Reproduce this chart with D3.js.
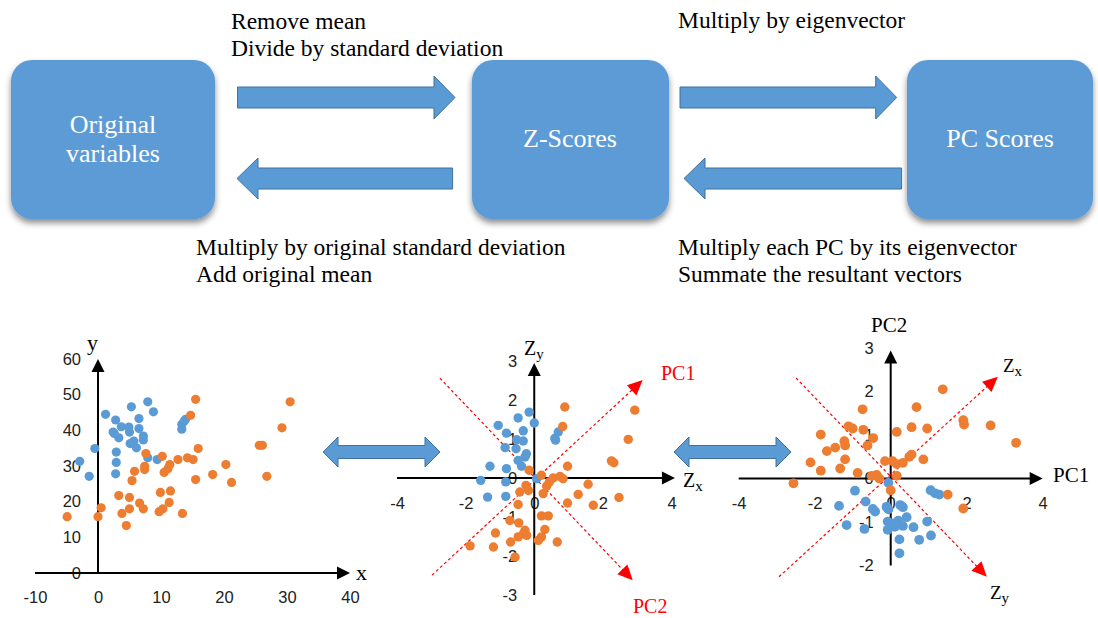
<!DOCTYPE html>
<html><head><meta charset="utf-8">
<script src="https://cdn.jsdelivr.net/npm/d3@7"></script>
<style>body{margin:0;background:#fff}svg{display:block}</style>
</head><body>
<svg id="c" width="1098" height="618"></svg>
<script>
// ---------- DATA ----------
const boxLabels = [["Original", "variables"], ["Z-Scores"], ["PC Scores"]];
const topNotes = [["Remove mean", "Divide by standard deviation"], ["Multiply by eigenvector"]];
const bottomNotes = [["Multiply by original standard deviation", "Add original mean"], ["Multiply each PC by its eigenvector", "Summate the resultant vectors"]];

const origTicksX = [-10, 0, 10, 20, 30, 40];
const origTicksY = [0, 10, 20, 30, 40, 50, 60];
const zTicksX = [-4, -2, 0, 2, 4];
const zTicksY = [-3, -2, -1, 0, 1, 2, 3];
const pcTicksX = [-4, -2, 0, 2, 4];
const pcTicksY = [-2, -1, 0, 1, 2, 3];

const origBlue = [[-2.9,31.3],[-1.4,27.1],[-0.5,34.9],[1.2,44.5],[2.8,42.9],[2.4,39.5],[2.6,39.1],[3.3,37.9],[3.7,41.0],[2.9,33.9],[2.9,31.0],[2.8,27.8],[4.9,40.9],[5.0,39.5],[5.3,46.6],[5.1,36.3],[5.7,37.0],[6.1,35.1],[6.5,43.3],[6.5,40.5],[7.2,38.4],[7.2,37.3],[7.9,48.0],[8.8,45.2],[7.9,32.3],[9.4,31.8],[13.3,40.3],[13.3,41.7],[13.7,42.6],[13.9,43.1]];
const origOrange = [[-4.9,15.8],[0,15.8],[0.5,18.3],[3.3,21.7],[3.8,16.7],[4.5,13.3],[5.0,21.2],[5.0,18.0],[5.4,25.9],[5.8,28.5],[6.6,19.6],[7.2,18.0],[7.4,29.0],[7.4,29.9],[7.6,33.5],[9.7,17.2],[10.3,18.0],[9.9,22.6],[10.2,32.7],[10.5,28.2],[11.1,29.2],[11.4,30.4],[11.3,19.8],[11.5,23.0],[12.7,31.8],[13.4,16.7],[14.2,32.3],[14.7,44.2],[15.1,31.8],[15.5,48.7],[15.5,26.2],[15.9,34.9],[18.2,27.6],[20.3,30.4],[21.2,25.4],[25.6,35.8],[26.1,35.8],[26.8,27.1],[29.2,40.7],[30.5,48.0]];

const zBlue = [[-0.15,1.69],[0,1.41],[-0.47,1.54],[-1.05,1.35],[-0.81,1.15],[-0.32,1.21],[-0.51,0.98],[-0.32,0.95],[-0.85,0.78],[-0.53,0.75],[-0.23,0.62],[-0.27,0.54],[-0.47,0.45],[-0.37,0.30],[-1.29,0.30],[-0.81,0.24],[-1.56,-0.06],[-0.83,-0.10],[-1.36,-0.49],[-0.83,-0.47],[0.62,0.97],[0.70,1.18],[0.60,1.02],[0.07,-0.02]];
const zOrange = [[0.89,1.82],[0.83,1.32],[2.93,1.74],[2.74,0.99],[2.25,0.44],[2.32,0.39],[0.97,0.30],[-0.15,0.20],[0.21,0.07],[0.55,0],[0.75,0.04],[0.84,-0.02],[0.44,-0.10],[0.36,-0.21],[-0.24,-0.19],[-0.42,-0.36],[-0.17,-0.32],[0.26,-0.40],[1.57,-0.16],[1.28,-0.42],[0.97,-0.64],[1.72,-0.70],[2.47,-0.50],[-0.47,-0.68],[0.21,-0.97],[0.41,-0.97],[-0.71,-1.09],[-0.45,-1.15],[-0.27,-1.34],[0.31,-1.32],[-1.13,-1.41],[-0.32,-1.43],[-0.22,-1.47],[-0.47,-1.51],[0.21,-1.51],[-0.69,-1.64],[0.12,-1.60],[0.67,-1.64],[-1.87,-1.74],[-1.19,-1.77],[-0.56,-2.03]];

const pcBlue = [[-0.94,-0.28],[-1.36,-0.63],[-1.16,-1.07],[-0.66,-0.53],[-0.47,-0.70],[-0.41,-0.76],[-0.69,-1.16],[-0.06,-0.10],[-0.11,-0.65],[-0.06,-0.71],[0.25,-0.61],[0.32,-0.66],[0.42,-0.89],[-0.08,-0.99],[-0.08,-1.18],[0.11,-1.11],[0.20,-0.97],[0.32,-1.09],[0.23,-1.40],[0.23,-1.72],[0.60,-1.12],[0.75,-1.41],[0.96,-0.99],[1.06,-1.31],[1.05,-0.27],[1.17,-0.34],[1.28,-0.37],[0.07,-1.03]];
const pcOrange = [[-2.56,-0.11],[-2.11,0.37],[-1.84,0.18],[-1.84,1.01],[-1.68,0.63],[-1.46,0.71],[-1.33,0.23],[-1.22,0.86],[-1.20,0.76],[-1.20,0.44],[-1.11,1.20],[-1.0,1.15],[-0.87,0.13],[-0.74,1.59],[-0.72,1.12],[-0.61,0.76],[-0.46,0.93],[-0.5,0.06],[-0.37,0.08],[-0.30,0],[-0.15,0.40],[0.05,0.40],[0.16,0.33],[0.16,0.06],[0.32,0.36],[0.49,0.50],[0.55,0.55],[0.86,0.44],[0.16,1.07],[0.55,1.18],[0.68,1.64],[0.96,1.15],[1.37,2.05],[1.91,1.34],[1.93,1.24],[2.63,1.22],[3.30,0.82],[1.50,-0.37],[1.91,-0.69],[0,-0.27]];

// rotated reference axes (in each panel's own units)
const zRefAxes = [{name:"PC1", from:[-2.98,-2.49], to:[3.16,2.51]}, {name:"PC2", from:[-2.75,2.56], to:[2.87,-2.62]}];
const pcRefAxes = [{name:"Zx", from:[-2.94,-2.26], to:[2.82,2.34]}, {name:"Zy", from:[-2.49,2.31], to:[2.53,-2.26]}];

// ---------- STYLE ----------
const BLUE = "#5B9BD5", ORANGE = "#ED7D31", EDGE = "#41719C";
const SERIF = "'Liberation Serif','Times New Roman',serif";
const SANS = "'Liberation Sans',Arial,sans-serif";

const svg = d3.select("#c");
const defs = svg.append("defs");
const f = defs.append("filter").attr("id","sh").attr("x","-20%").attr("y","-20%").attr("width","140%").attr("height","150%");
f.append("feDropShadow").attr("dx",0).attr("dy",4).attr("stdDeviation",3).attr("flood-color","#000").attr("flood-opacity",0.45);

// ---------- BOXES ----------
const boxGeom = [{x:11,w:204,cx:113},{x:472,w:197,cx:570},{x:907,w:186,cx:1000}];
boxGeom.forEach((b,i) => {
  svg.append("rect").attr("x",b.x).attr("y",60).attr("width",b.w).attr("height",159)
    .attr("rx",21).attr("fill",BLUE).attr("filter","url(#sh)");
  const lines = boxLabels[i];
  const base = lines.length === 1 ? 147 : 133;
  lines.forEach((t,j) => svg.append("text").attr("x",b.cx).attr("y",base + j*29)
    .attr("text-anchor","middle").attr("fill","#fff").style("font-family",SERIF).style("font-size","26px").text(t));
});

// ---------- BLOCK ARROWS ----------
function blockArrow(x1, x2, yc, sh, hh, hl, dir) {
  let pts;
  const s = sh/2, h = hh/2;
  if (dir === 1) pts = [[x1,yc-s],[x2-hl,yc-s],[x2-hl,yc-h],[x2,yc],[x2-hl,yc+h],[x2-hl,yc+s],[x1,yc+s]];
  else if (dir === -1) pts = [[x2,yc-s],[x1+hl,yc-s],[x1+hl,yc-h],[x1,yc],[x1+hl,yc+h],[x1+hl,yc+s],[x2,yc+s]];
  else pts = [[x1,yc],[x1+hl,yc-h],[x1+hl,yc-s],[x2-hl,yc-s],[x2-hl,yc-h],[x2,yc],[x2-hl,yc+h],[x2-hl,yc+s],[x1+hl,yc+s],[x1+hl,yc+h]];
  svg.append("polygon").attr("points",pts.map(p=>p.join(",")).join(" "))
    .attr("fill",BLUE).attr("stroke",EDGE).attr("stroke-width",1);
}
blockArrow(237.5,455,97.5,21,43,21,1);
blockArrow(237,452.6,178.5,21,41,21,-1);
blockArrow(680,896.7,97.5,21,43,21,1);
blockArrow(684,901.6,178.5,21,41,21,-1);
blockArrow(323,440,452,13,30,15,0);
blockArrow(674,791,452,13,30,15,0);

// ---------- NOTES ----------
function notes(lines, x, y0) {
  lines.forEach((t,j)=>svg.append("text").attr("x",x).attr("y",y0+j*27)
    .style("font-family",SERIF).style("font-size","23.5px").attr("fill","#000").text(t));
}
notes(topNotes[0],231,29);
notes(topNotes[1],678,28);
notes(bottomNotes[0],196,255);
notes(bottomNotes[1],678,255);

// ---------- SCATTER PANELS ----------
function arrowLine(g, x1,y1,x2,y2, color, w, hl, hw, dash) {
  const dx = x2-x1, dy = y2-y1, L = Math.hypot(dx,dy), ux = dx/L, uy = dy/L;
  const bx = x2-ux*hl, by = y2-uy*hl;
  g.append("line").attr("x1",x1).attr("y1",y1).attr("x2",bx+ux*1).attr("y2",by+uy*1)
    .attr("stroke",color).attr("stroke-width",w).attr("stroke-dasharray",dash||null);
  g.append("polygon").attr("points",[[x2,y2],[bx-uy*hw,by+ux*hw],[bx+uy*hw,by-ux*hw]].map(p=>p.join(",")).join(" "))
    .attr("fill",color);
}

function panel(c) {
  const g = svg.append("g");
  const x = d3.scaleLinear().domain(c.xd).range(c.xr);
  const y = d3.scaleLinear().domain(c.yd).range(c.yr);
  const ax = g.append("g").attr("transform",`translate(0,${y(0)})`)
    .call(d3.axisBottom(x).tickValues(c.xt).tickSize(0).tickPadding(c.xpad).tickFormat(d3.format("d")));
  const ay = g.append("g").attr("transform",`translate(${x(0)},0)`)
    .call(d3.axisLeft(y).tickValues(c.yt).tickSize(0).tickPadding(17).tickFormat(d3.format("d")));
  [ax,ay].forEach(a=>{a.select(".domain").remove();
    a.selectAll("text").style("font-family",SANS).style("font-size","16.5px").attr("fill","#222");});
  ax.selectAll("text").text(d=>String(d));
  ay.selectAll("text").text(d=>String(d));
  arrowLine(g, x(c.xd[0]), y(0), x(c.xEnd), y(0), "#000", 2, 13, 6.5);
  arrowLine(g, x(0), y(c.yd[0]), x(0), y(c.yEnd), "#000", 2, 13, 6.5);
  (c.ref||[]).forEach(r=>arrowLine(g, x(r.from[0]),y(r.from[1]),x(r.to[0]),y(r.to[1]),"#FF0000",1.2,15,7,"3,2.5"));
  g.selectAll(".b").data(c.blue).join("circle").attr("cx",d=>x(d[0])).attr("cy",d=>y(d[1])).attr("r",c.r).attr("fill",BLUE);
  g.selectAll(".o").data(c.orange).join("circle").attr("cx",d=>x(d[0])).attr("cy",d=>y(d[1])).attr("r",c.r).attr("fill",ORANGE);
  c.labels.forEach(l=>{
    const t = g.append("text").attr("x",l.x).attr("y",l.y).style("font-family",SERIF)
      .style("font-size",(l.size||20)+"px").attr("fill",l.color||"#000");
    if (l.sub) { t.append("tspan").text(l.t); t.append("tspan").attr("dy",4).style("font-size","15px").text(l.sub); }
    else t.text(l.t);
  });
}

panel({xd:[-10,40], xr:[35,350], yd:[0,60], yr:[573,359], xEnd:40, yEnd:60, xt:origTicksX, yt:origTicksY, xpad:18,
  blue:origBlue, orange:origOrange, r:4.6,
  labels:[{t:"y",x:87,y:350,size:22},{t:"x",x:356,y:580,size:22}]});

panel({xd:[-4,4], xr:[397,671.5], yd:[-3,3], yr:[595,361], xEnd:4.1, yEnd:2.95, xt:zTicksX, yt:zTicksY, xpad:19,
  blue:zBlue, orange:zOrange, r:4.7, ref:zRefAxes,
  labels:[{t:"Z",sub:"y",x:524,y:355,size:20},{t:"Z",sub:"x",x:683,y:487,size:20},
          {t:zRefAxes[0].name,x:661,y:380,size:20,color:"#FF0000"},{t:zRefAxes[1].name,x:633,y:613,size:20,color:"#FF0000"}]});

panel({xd:[-4,4], xr:[738.7,1042.7], yd:[-2,3], yr:[565.5,348], xEnd:4, yEnd:2.94, xt:pcTicksX, yt:pcTicksY, xpad:19,
  blue:pcBlue, orange:pcOrange, r:4.9, ref:pcRefAxes,
  labels:[{t:"PC2",x:871,y:332,size:21},{t:"PC1",x:1053,y:482,size:21},
          {t:"Z",sub:"x",x:1003,y:372,size:19},{t:"Z",sub:"y",x:990,y:599,size:19}]});
</script>
</body></html>
